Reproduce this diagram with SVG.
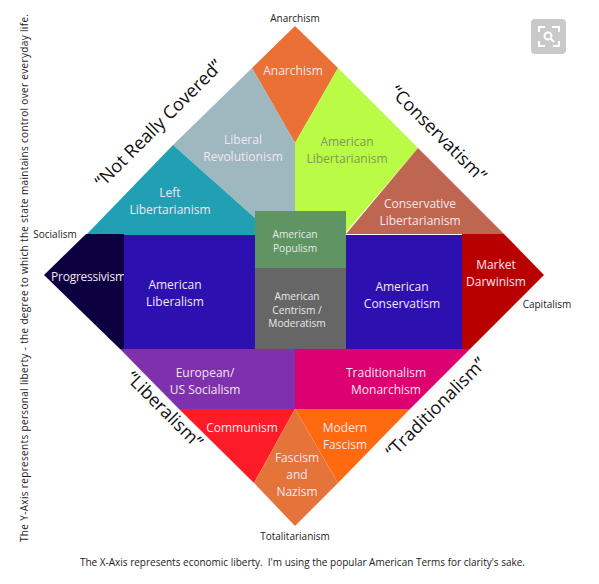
<svg xmlns="http://www.w3.org/2000/svg" width="599" height="584" viewBox="0 0 599 584">
<style>
text{font-family:"Open Sans","Noto Sans","Liberation Sans",sans-serif;text-anchor:middle}
.w{fill:#f4e6f0;font-size:12px}
.s{fill:#e8e8e8;font-size:10.2px}
.k{fill:#222;font-size:10px}
.h{fill:#111;font-size:18px}
.g{fill:#7f9a55;font-size:12px}
</style>
<rect width="599" height="584" fill="#fff"/>
<g id="connectors"></g>
<g id="anarchism"><polygon points="295,26 338,68 295,143 252,68" fill="#ea7035"/><text class="w" x="293" y="75">Anarchism</text></g>
<g id="liberal-revolutionism"><polygon points="252,68 295,143 295,212 255,212 255,218 173,145" fill="#9db8be"/><text class="w" x="243" y="144">Liberal</text><text class="w" x="243" y="161">Revolutionism</text></g>
<g id="left-libertarianism"><polygon points="173,145 255,218 255,235 86,235" fill="#21a0b3"/><text class="w" x="170" y="197">Left</text><text class="w" x="170" y="214">Libertarianism</text></g>
<g id="american-libertarianism"><polygon points="338,68 418,148 346,232 346,212 295,212 295,143" fill="#b9fb45"/><text class="g" x="347" y="146">American</text><text class="g" x="347" y="163">Libertarianism</text></g>
<g id="conservative-libertarianism"><polygon points="418,148 504,234 346,234" fill="#bf6650"/><text class="w" x="420" y="208">Conservative</text><text class="w" x="420" y="225">Libertarianism</text></g>
<g id="progressivism"><polygon points="86,234 124,234 124,349 120,349 44,275" fill="#0c0040"/><text class="w" x="88.5" y="281" textLength="75">Progressivism</text></g>
<g id="american-liberalism"><rect x="124" y="235" width="131" height="114" fill="#2d10b0"/><text class="w" x="175" y="289">American</text><text class="w" x="175" y="306">Liberalism</text></g>
<g id="american-populism"><rect x="255" y="211" width="91" height="57" fill="#5e9562"/><text class="s" x="295" y="238">American</text><text class="s" x="295" y="252">Populism</text></g>
<g id="american-centrism"><rect x="255" y="268" width="91" height="81" fill="#666"/><text class="s" x="297" y="300">American</text><text class="s" x="297" y="314">Centrism /</text><text class="s" x="297" y="327">Moderatism</text></g>
<g id="american-conservatism"><rect x="346" y="235" width="116" height="114" fill="#2d10b0"/><text class="w" x="402" y="291">American</text><text class="w" x="402" y="308">Conservatism</text></g>
<g id="market-darwinism"><polygon points="462,234 504,234 544,275 470,349 462,349" fill="#b90000"/><text class="w" x="496" y="269">Market</text><text class="w" x="496" y="286">Darwinism</text></g>
<g id="european-socialism"><polygon points="120,349 295,349 295,409 179,409" fill="#7f30ac"/><text class="w" x="205" y="377">European/</text><text class="w" x="205" y="394">US Socialism</text></g>
<g id="traditionalism-monarchism"><polygon points="295,349 470,349 410,409 295,409" fill="#dc0070"/><text class="w" x="386" y="377">Traditionalism</text><text class="w" x="386" y="394">Monarchism</text></g>
<g id="communism"><polygon points="179,409 295,409 254,483" fill="#fb1c28"/><text class="w" x="242" y="432">Communism</text></g>
<g id="modern-fascism"><polygon points="295,409 410,409 338,483" fill="#ff6a10"/><text class="w" x="345" y="432">Modern</text><text class="w" x="345" y="449">Fascism</text></g>
<g id="fascism-nazism"><polygon points="295,409 338,483 295,526 254,483" fill="#e5743a"/><text class="w" x="297" y="462">Fascism</text><text class="w" x="297" y="479">and</text><text class="w" x="297" y="496">Nazism</text></g>
<g id="labels">
<text class="k" x="295" y="22">Anarchism</text>
<text class="k" x="55" y="238">Socialism</text>
<text class="k" x="547" y="308">Capitalism</text>
<text class="k" x="295" y="540">Totalitarianism</text>
<text class="h" transform="translate(163,128) rotate(-45)">“Not Really Covered”</text>
<text class="h" transform="translate(434,138) rotate(45)">“Conservatism”</text>
<text class="h" transform="translate(160,414) rotate(45)">“Liberalism”</text>
<text class="h" transform="translate(440,412) rotate(-45)">“Traditionalism”</text>
<text class="k" transform="translate(28,278) rotate(-90)" textLength="528">The Y-Axis represents personal liberty - the degree to which the state maintains control over everyday life.</text>
<text class="k" x="302.5" y="566" textLength="445" xml:space="preserve">The X-Axis represents economic liberty.  I'm using the popular American Terms for clarity's sake.</text>
</g>
<g id="zoom-button"><rect x="531" y="19" width="35" height="35" rx="4" fill="#c9c9c9"/><path d="M539 32v-5h6M552 27h7v5M559 41v5h-6M545 46h-6v-5" fill="none" stroke="#fff" stroke-width="2"/><circle cx="548" cy="36" r="3.5" fill="none" stroke="#fff" stroke-width="2"/><path d="M551 39l3 3" stroke="#fff" stroke-width="2"/></g>
</svg>
